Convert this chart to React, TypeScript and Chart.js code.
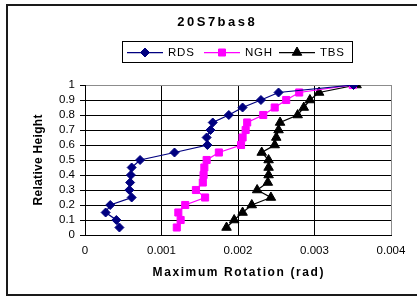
import React, { useEffect, useRef } from 'react';
import { Chart, registerables } from 'chart.js';

Chart.register(...registerables);

const heights = [0.05, 0.1, 0.15, 0.2, 0.25, 0.3, 0.35, 0.4, 0.45, 0.5, 0.55, 0.6, 0.65, 0.7, 0.75, 0.8, 0.85, 0.9, 0.95, 1.0];
const rdsRotation = [0.00045, 0.00041, 0.00027, 0.00033, 0.00061, 0.00058, 0.00059, 0.0006, 0.00061, 0.00072, 0.00117, 0.0016, 0.00159, 0.00164, 0.00167, 0.00188, 0.00206, 0.0023, 0.00253, 0.00351];
const nghRotation = [0.0012, 0.00125, 0.00122, 0.00131, 0.00157, 0.00145, 0.00154, 0.00155, 0.00156, 0.00159, 0.00175, 0.00204, 0.00206, 0.0021, 0.00212, 0.00233, 0.00248, 0.00263, 0.0028, 0.0035];
const tbsRotation = [0.00185, 0.00195, 0.00206, 0.00218, 0.00243, 0.00225, 0.00239, 0.0024, 0.0024, 0.0024, 0.00231, 0.00248, 0.0025, 0.00253, 0.00255, 0.00278, 0.00286, 0.00294, 0.00306, 0.00355];

const seriesNames = ['RDS', 'NGH', 'TBS'];
const seriesColors = ['#000080', '#FF00FF', '#000000'];
const chartTitle = '20S7bas8';
const xAxisTitle = 'Maximum Rotation (rad)';
const yAxisTitle = 'Relative Height';
const xMin = 0;
const xMax = 0.004;
const xStep = 0.001;
const yMin = 0;
const yMax = 1;
const yStep = 0.1;

const FONT = '"Liberation Sans", Arial, sans-serif';

function toPoints(xs: number[], ys: number[]) {
  return xs.map((x, i) => ({ x, y: ys[i] }));
}

function drawMarker(ctx: CanvasRenderingContext2D, kind: string, x: number, y: number, color: string) {
  ctx.save();
  ctx.fillStyle = color;
  ctx.strokeStyle = color;
  ctx.lineWidth = 1;
  ctx.beginPath();
  if (kind === 'rectRot') {
    const r = 4.5;
    ctx.moveTo(x, y - r);
    ctx.lineTo(x + r, y);
    ctx.lineTo(x, y + r);
    ctx.lineTo(x - r, y);
    ctx.closePath();
  } else if (kind === 'rect') {
    const s = 3.5;
    ctx.rect(x - s, y - s, 2 * s, 2 * s);
  } else {
    const r = 5.5;
    ctx.moveTo(x, y - r);
    ctx.lineTo(x + r * Math.sin(Math.PI / 3), y + r * 0.5);
    ctx.lineTo(x - r * Math.sin(Math.PI / 3), y + r * 0.5);
    ctx.closePath();
  }
  ctx.fill();
  ctx.stroke();
  ctx.restore();
}

function spacedText(ctx: CanvasRenderingContext2D, text: string, x: number, y: number, spacing: number, align: 'left' | 'center') {
  const anyCtx = ctx as any;
  anyCtx.letterSpacing = spacing + 'px';
  ctx.textAlign = 'left';
  ctx.textBaseline = 'middle';
  let w = ctx.measureText(text).width;
  if (align === 'center') {
    w = w - spacing;
    ctx.fillText(text, x - w / 2, y);
  } else {
    ctx.fillText(text, x, y);
  }
  anyCtx.letterSpacing = '0px';
}

const decorPlugin = {
  id: 'decor',
  afterDraw(chart: any) {
    const ctx: CanvasRenderingContext2D = chart.ctx;
    const area = chart.chartArea;
    ctx.save();
    // outer frame
    ctx.strokeStyle = '#1a1a1a';
    ctx.lineWidth = 2;
    ctx.strokeRect(7, 5, 420, 290);

    ctx.fillStyle = '#000';
    // title
    ctx.font = `bold 13px ${FONT}`;
    spacedText(ctx, chartTitle, 216, 22, 2.5, 'center');

    // legend box
    ctx.strokeStyle = '#000';
    ctx.lineWidth = 1;
    ctx.strokeRect(122.5, 41.5, 230, 21);
    const legendY = 52;
    const items = [
      { x1: 127, x2: 163, mx: 145, tx: 168, kind: 'rectRot' },
      { x1: 204, x2: 240, mx: 222, tx: 245, kind: 'rect' },
      { x1: 279, x2: 315, mx: 297, tx: 320, kind: 'triangle' },
    ];
    ctx.font = `11.5px ${FONT}`;
    items.forEach((it, i) => {
      ctx.strokeStyle = seriesColors[i];
      ctx.lineWidth = 1.25;
      ctx.beginPath();
      ctx.moveTo(it.x1, legendY + 0.5);
      ctx.lineTo(it.x2, legendY + 0.5);
      ctx.stroke();
      drawMarker(ctx, it.kind, it.mx, legendY + 0.5, seriesColors[i]);
      ctx.fillStyle = '#000';
      spacedText(ctx, seriesNames[i], it.tx, legendY + 0.5, 0.8, 'left');
    });

    // axis titles
    ctx.fillStyle = '#000';
    ctx.font = `bold 12px ${FONT}`;
    spacedText(ctx, xAxisTitle, (area.left + area.right) / 2, 272.5, 1.6, 'center');
    ctx.save();
    ctx.translate(38.5, (area.top + area.bottom) / 2);
    ctx.rotate(-Math.PI / 2);
    spacedText(ctx, yAxisTitle, 0, 0, 0.3, 'center');
    ctx.restore();
    ctx.restore();
  },
};

export default function App() {
  const canvasRef = useRef<HTMLCanvasElement | null>(null);

  useEffect(() => {
    const canvas = canvasRef.current;
    if (!canvas) return;
    const markerKinds = ['rectRot', 'rect', 'triangle'];
    const radii = [4.5, 5, 5.5];
    const seriesData = [rdsRotation, nghRotation, tbsRotation];
    const chart = new Chart(canvas, {
      type: 'scatter',
      data: {
        datasets: seriesData.map((xs, i) => ({
          label: seriesNames[i],
          data: toPoints(xs, heights),
          showLine: true,
          borderColor: seriesColors[i],
          backgroundColor: seriesColors[i],
          borderWidth: 1.25,
          pointStyle: markerKinds[i] as any,
          pointRadius: radii[i],
          pointBorderWidth: 1,
          pointBorderColor: seriesColors[i],
          pointBackgroundColor: seriesColors[i],
          tension: 0,
        })),
      },
      options: {
        animation: false,
        responsive: false,
        devicePixelRatio: 1,
        layout: { padding: { top: 85, right: 26, bottom: 0, left: 0 } },
        plugins: {
          legend: { display: false },
          title: { display: false },
          tooltip: { enabled: false },
        },
        scales: {
          x: {
            type: 'linear',
            min: xMin,
            max: xMax,
            afterFit: (scale: any) => {
              scale.height = 61;
            },
            ticks: {
              stepSize: xStep,
              color: '#000',
              font: { family: FONT, size: 11.5 },
              padding: 9,
              maxRotation: 0,
              autoSkip: false,
              callback: (v: any) => String(Number(Number(v).toFixed(3))),
            },
            grid: {
              color: (c: any) => (c.tick && Math.abs(c.tick.value - xMax) < 1e-9 ? '#8c8c8c' : '#000'),
              lineWidth: 1,
              drawTicks: false,
            },
            border: { color: '#000', width: 1 },
          },
          y: {
            type: 'linear',
            min: yMin,
            max: yMax,
            afterFit: (scale: any) => {
              scale.width = 85;
            },
            ticks: {
              stepSize: yStep,
              color: '#000',
              font: { family: FONT, size: 11.5 },
              padding: 5,
              autoSkip: false,
              callback: (v: any) => String(Number(Number(v).toFixed(1))),
            },
            grid: {
              color: (c: any) => (c.tick && Math.abs(c.tick.value - yMax) < 1e-9 ? '#8c8c8c' : '#000'),
              lineWidth: 1,
              tickLength: 5,
              tickColor: '#000',
            },
            border: { color: '#000', width: 1 },
          },
        },
      },
      plugins: [decorPlugin],
    });
    return () => {
      chart.destroy();
    };
  }, []);

  return (
    <div style={{ position: 'absolute', left: 0, top: 0, width: 417, height: 296, background: '#fff' }}>
      <canvas ref={canvasRef} width={417} height={296} style={{ width: 417, height: 296, display: 'block' }} />
    </div>
  );
}
